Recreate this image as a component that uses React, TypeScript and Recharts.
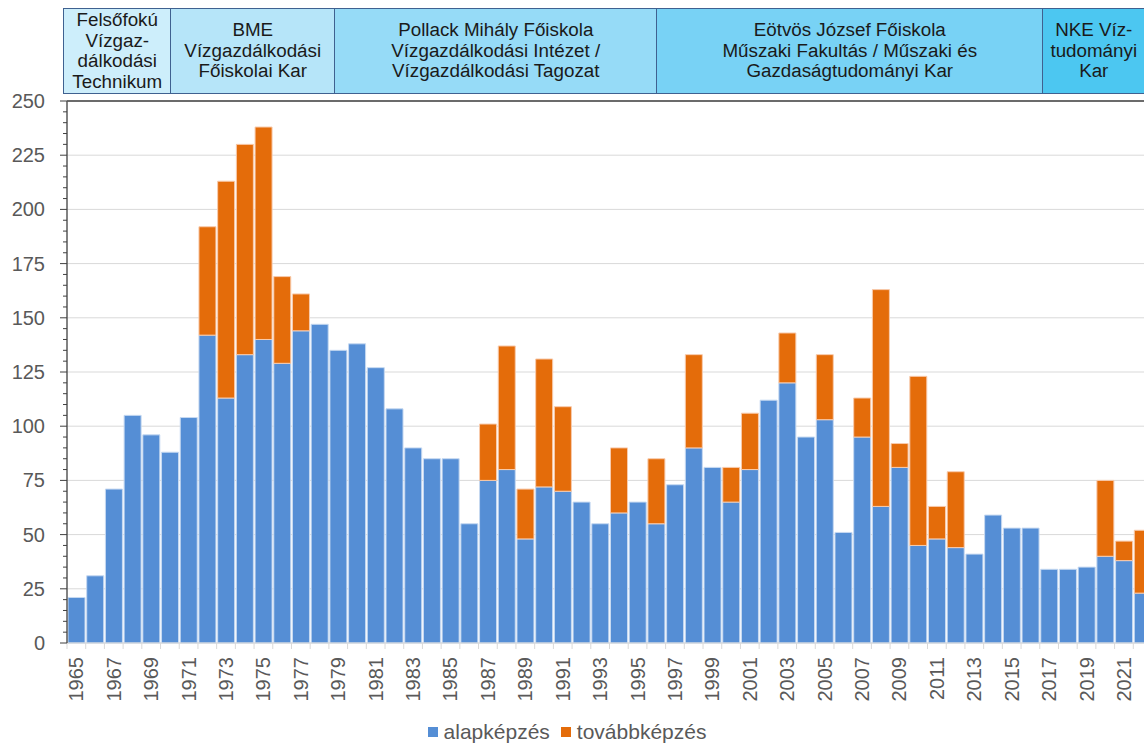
import { BarChart, Bar, XAxis, YAxis, CartesianGrid, ReferenceLine } from 'recharts';

const years = [
  '1965', '1966', '1967', '1968', '1969', '1970', '1971', '1972', '1973', '1974',
  '1975', '1976', '1977', '1978', '1979', '1980', '1981', '1982', '1983', '1984',
  '1985', '1986', '1987', '1988', '1989', '1990', '1991', '1992', '1993', '1994',
  '1995', '1996', '1997', '1998', '1999', '2000', '2001', '2002', '2003', '2004',
  '2005', '2006', '2007', '2008', '2009', '2010', '2011', '2012', '2013', '2014',
  '2015', '2016', '2017', '2018', '2019', '2020', '2021', '2022',
];

// alapképzés (blue)
const alap = [
  21, 31, 71, 105, 96, 88, 104, 142, 113, 133,
  140, 129, 144, 147, 135, 138, 127, 108, 90, 85,
  85, 55, 75, 80, 48, 72, 70, 65, 55, 60,
  65, 55, 73, 90, 81, 65, 80, 112, 120, 95,
  103, 51, 95, 63, 81, 45, 48, 44, 41, 59,
  53, 53, 34, 34, 35, 40, 38, 23,
];

// továbbképzés (orange)
const tovabb = [
  0, 0, 0, 0, 0, 0, 0, 50, 100, 97,
  98, 40, 17, 0, 0, 0, 0, 0, 0, 0,
  0, 0, 26, 57, 23, 59, 39, 0, 0, 30,
  0, 30, 0, 43, 0, 16, 26, 0, 23, 0,
  30, 0, 18, 100, 11, 78, 15, 35, 0, 0,
  0, 0, 0, 0, 0, 35, 9, 29,
];

const yTicks = [0, 25, 50, 75, 100, 125, 150, 175, 200, 225, 250];

const headerLabels = [
  ['Felsőfokú', 'Vízgaz-', 'dálkodási', 'Technikum'],
  ['BME', 'Vízgazdálkodási', 'Főiskolai Kar'],
  ['Pollack Mihály Főiskola', 'Vízgazdálkodási Intézet /', 'Vízgazdálkodási Tagozat'],
  ['Eötvös József Főiskola', 'Műszaki Fakultás / Műszaki és', 'Gazdaságtudományi Kar'],
  ['NKE Víz-', 'tudományi', 'Kar'],
];

// header box layout (px)
const headerEdges = [63, 170, 334, 656, 1042, 1144];
const headerFills = ['#cdeefb', '#b6e5f9', '#96dbf7', '#78d2f5', '#4cc7f1'];

const BLUE = '#558ed5';
const ORANGE = '#e46c0a';
const TEXT = '#595959';
const FONT = '"Liberation Sans", Arial, sans-serif';

const data = years.map((y, i) => ({ year: y, alap: alap[i], tovabb: tovabb[i] }));

const PLOT_LEFT = 67;
const PLOT_RIGHT = 1152;
const BAND = (PLOT_RIGHT - PLOT_LEFT) / years.length;

const minorTicks: number[] = [];
for (let v = 0; v <= 250; v += 5) minorTicks.push(v);

function YTick(props: any) {
  const { x, y, payload } = props;
  const major = payload.value % 25 === 0;
  return (
    <g>
      <line x1={x - (major ? 7 : 4)} x2={x} y1={y} y2={y} stroke="#404040" strokeWidth={1} />
      {major && (
        <text x={x - 22} y={y} dy="0.35em" textAnchor="end" fill={TEXT} fontSize={20} fontFamily={FONT}>
          {payload.value}
        </text>
      )}
    </g>
  );
}

function XTick(props: any) {
  const { x, y, payload, index } = props;
  const left = x - BAND / 2;
  return (
    <g>
      <line x1={left} x2={left} y1={y} y2={y + 6} stroke="#d9d9d9" strokeWidth={1} />
      {index % 2 === 0 && (
        <text
          x={x}
          y={y + 14}
          dy="0.35em"
          textAnchor="end"
          fill={TEXT}
          fontSize={20}
          fontFamily={FONT}
          transform={`rotate(-90, ${x}, ${y + 14})`}
        >
          {payload.value}
        </text>
      )}
    </g>
  );
}

export default function App() {
  return (
    <div style={{ position: 'fixed', left: 0, top: 0, width: 1144, height: 743, overflow: 'hidden', background: '#fff', fontFamily: FONT }}>
      {headerLabels.map((lines, i) => (
        <div
          key={i}
          style={{
            position: 'absolute',
            left: headerEdges[i],
            top: 8,
            width: headerEdges[i + 1] - headerEdges[i] + 1.5,
            height: 86,
            boxSizing: 'border-box',
            border: '1.5px solid #3f6190',
            background: headerFills[i],
            display: 'flex',
            flexDirection: 'column',
            justifyContent: 'center',
            alignItems: 'center',
            textAlign: 'center',
            fontSize: 18.8,
            lineHeight: '20.5px',
            color: '#1a1a1a',
          }}
        >
          {lines.map((l, j) => (
            <div key={j} style={{ whiteSpace: 'nowrap' }}>{l}</div>
          ))}
        </div>
      ))}

      <div style={{ position: 'absolute', left: 0, top: 0 }}>
        <BarChart
          width={1160}
          height={743}
          data={data}
          margin={{ top: 101, right: 1160 - PLOT_RIGHT, left: 0, bottom: 30 }}
          barCategoryGap={1}
        >
          <CartesianGrid vertical={false} stroke="#d9d9d9" horizontalValues={yTicks} />
          <XAxis
            dataKey="year"
            interval={0}
            height={70}
            tickSize={0}
            tickMargin={0}
            tick={<XTick />}
            axisLine={{ stroke: '#d9d9d9' }}
            tickLine={false}
          />
          <YAxis
            width={PLOT_LEFT}
            domain={[0, 250]}
            ticks={minorTicks}
            interval={0}
            tickSize={0}
            tickMargin={0}
            tick={<YTick />}
            tickLine={false}
            axisLine={{ stroke: '#595959', strokeWidth: 1.5 }}
          />
          <ReferenceLine y={250} stroke="#404040" strokeWidth={1.5} />
          <Bar dataKey="alap" stackId="a" fill={BLUE} stroke="#c6d9f1" strokeWidth={1} isAnimationActive={false} />
          <Bar dataKey="tovabb" stackId="a" fill={ORANGE} stroke="#f8cbad" strokeWidth={1} isAnimationActive={false} />
        </BarChart>
      </div>

      <div style={{ position: 'absolute', left: 0, top: 720, width: 1134, display: 'flex', justifyContent: 'center', alignItems: 'center', fontSize: 21, color: TEXT }}>
        <span style={{ width: 10, height: 10, background: BLUE, display: 'inline-block', marginRight: 6 }} />
        <span style={{ marginRight: 11 }}>alapképzés</span>
        <span style={{ width: 10, height: 10, background: ORANGE, display: 'inline-block', marginRight: 6 }} />
        <span>továbbképzés</span>
      </div>
    </div>
  );
}
